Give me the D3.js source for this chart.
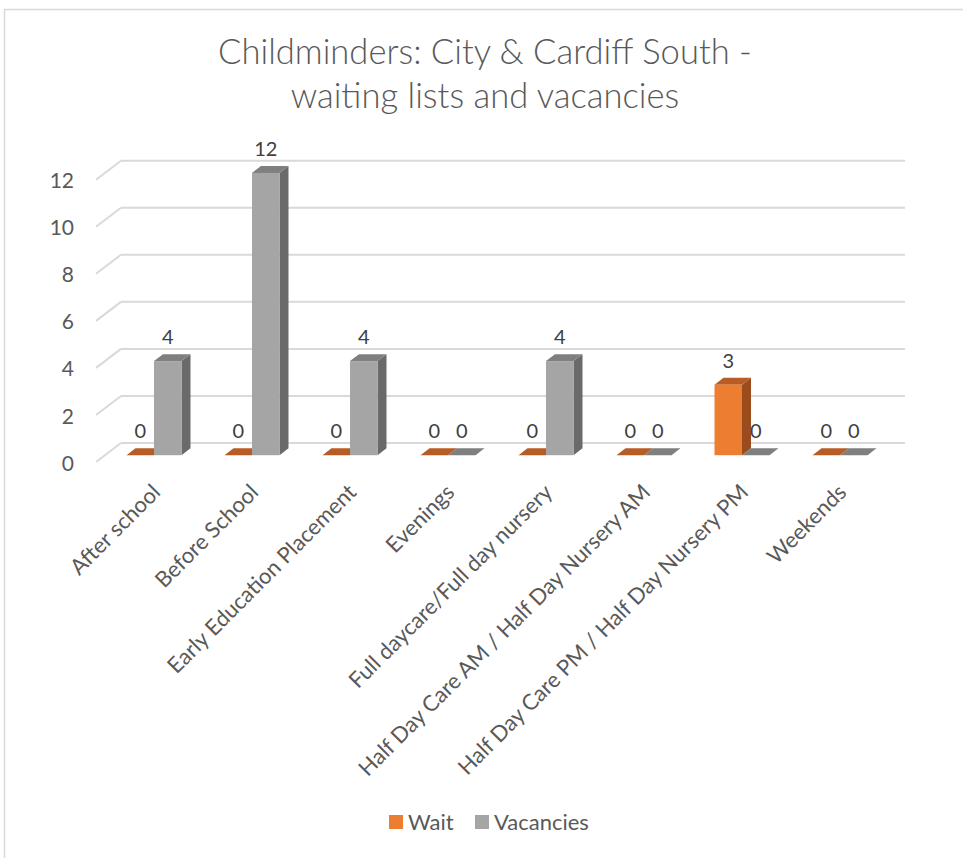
<!DOCTYPE html>
<html>
<head>
<meta charset="utf-8">
<script src="https://cdn.jsdelivr.net/npm/d3@7"></script>
<style>
  html, body { margin: 0; padding: 0; background: #fff; }
  svg { display: block; }
  text { font-family: Lato, "Noto Sans", sans-serif; }
</style>
</head>
<body>
<svg id="chart" width="963" height="858"></svg>
<script>
const categories = ["After school", "Before School", "Early Education Placement", "Evenings",
  "Full daycare/Full day nursery", "Half Day Care AM / Half Day Nursery AM",
  "Half Day Care PM / Half Day Nursery PM", "Weekends"];
const seriesNames = ["Wait", "Vacancies"];
const waitValues = [0, 0, 0, 0, 0, 0, 3, 0];
const vacancyValues = [4, 12, 4, 0, 4, 0, 0, 0];
const yTicks = [0, 2, 4, 6, 8, 10, 12];
const titleLines = ["Childminders: City & Cardiff South -", "waiting lists and vacancies"];

const colors = {
  Wait: { front: "#ED7D31", top: "#B65C24", side: "#9A4C1C" },
  Vacancies: { front: "#A5A5A5", top: "#7F7F7F", side: "#6A6A6A" }
};

const svg = d3.select("#chart");

// chart border
svg.append("rect").attr("x", 4.5).attr("y", 9.5).attr("width", 1000).attr("height", 1000)
  .attr("fill", "#fff").attr("stroke", "#D9D9D9").attr("stroke-width", 1.5);

// title
const title = svg.append("text").attr("text-anchor", "middle").attr("fill", "#595959")
  .style("font-weight", 300);
title.selectAll("tspan").data(titleLines).join("tspan")
  .attr("x", 485).attr("y", (d, i) => 64 + i * 44).text(d => d);
title.style("font-size", "30px");
{
  const w = title.select("tspan").node().getComputedTextLength();
  title.style("font-size", (30 * 534 / w).toFixed(2) + "px");
}

// 3D geometry: back wall plane, depth offsets
const DX = 25, DY = 19;              // full depth (back wall -> front edge)
const barFront = { dx: -16, dy: 12.2 };  // bar front plane offset from back wall
const barDepth = { dx: 9, dy: 6.9 };

const x = d3.scaleBand().domain(categories).range([121, 905]).paddingInner(0).paddingOuter(0);
const xs = d3.scaleBand().domain(seriesNames).range([0, x.bandwidth()]).paddingInner(0).paddingOuter(0.782);
const y = d3.scaleLinear().domain([0, 12]).range([443, 160.7]);

// gridlines (back wall + left side stubs)
const grid = svg.append("g");
yTicks.forEach(t => {
  const yy = y(t);
  grid.append("line").attr("x1", 121).attr("x2", 905).attr("y1", yy).attr("y2", yy)
    .attr("stroke", "#D9D9D9").attr("stroke-width", 2);
  grid.append("line").attr("x1", 121).attr("y1", yy).attr("x2", 121 - DX).attr("y2", yy + DY)
    .attr("stroke", "#D9D9D9").attr("stroke-width", 2);
});

// y tick labels at front edge
svg.append("g").selectAll("text").data(yTicks).join("text")
  .attr("x", 74).attr("y", d => y(d) + DY + 1)
  .attr("dy", "0.36em")
  .attr("text-anchor", "end").attr("fill", "#595959").style("font-size", "21px")
  .text(d => d);

// bars
const bars = [];
categories.forEach((c, i) => {
  [["Wait", waitValues[i]], ["Vacancies", vacancyValues[i]]].forEach(([s, v]) => {
    bars.push({ c, s, v });
  });
});

const gBars = svg.append("g");
bars.forEach(b => {
  const x0 = x(b.c) + xs(b.s) + barFront.dx;
  const w = xs.bandwidth();
  const yb = y(0) + barFront.dy;
  const yt = y(b.v) + barFront.dy;
  const col = colors[b.s];
  const g = gBars.append("g");
  g.append("path").attr("d", `M${x0 + w},${yt} L${x0 + w + barDepth.dx},${yt - barDepth.dy} L${x0 + w + barDepth.dx},${yb - barDepth.dy} L${x0 + w},${yb} Z`)
    .attr("fill", col.side);
  g.append("path").attr("d", `M${x0},${yt} L${x0 + w},${yt} L${x0 + w + barDepth.dx},${yt - barDepth.dy} L${x0 + barDepth.dx},${yt - barDepth.dy} Z`)
    .attr("fill", col.top);
  if (yb - yt > 0) {
    g.append("rect").attr("x", x0).attr("y", yt).attr("width", w).attr("height", yb - yt)
      .attr("fill", col.front);
  }
  g.append("text").attr("x", x0 + w / 2).attr("y", yt - 24).attr("dy", "0.36em")
    .attr("text-anchor", "middle").attr("fill", "#404040").style("font-size", "20px")
    .text(b.v);
});

// category labels
svg.append("g").selectAll("text").data(categories).join("text")
  .attr("transform", d => `translate(${x(d) + barFront.dx + x.bandwidth() / 2 - 4},482) rotate(-45)`)
  .attr("dy", "0.75em")
  .attr("text-anchor", "end").attr("fill", "#595959").style("font-size", "22px")
  .text(d => d);

// legend
const legend = svg.append("g");
const legendX = [389, 475];
seriesNames.forEach((s, i) => {
  legend.append("rect").attr("x", legendX[i]).attr("y", 815).attr("width", 14).attr("height", 14)
    .attr("fill", colors[s].front);
  legend.append("text").attr("x", legendX[i] + 19).attr("y", 822).attr("dy", "0.36em")
    .attr("fill", "#595959").style("font-size", "22px").text(s);
});
</script>
</body>
</html>
